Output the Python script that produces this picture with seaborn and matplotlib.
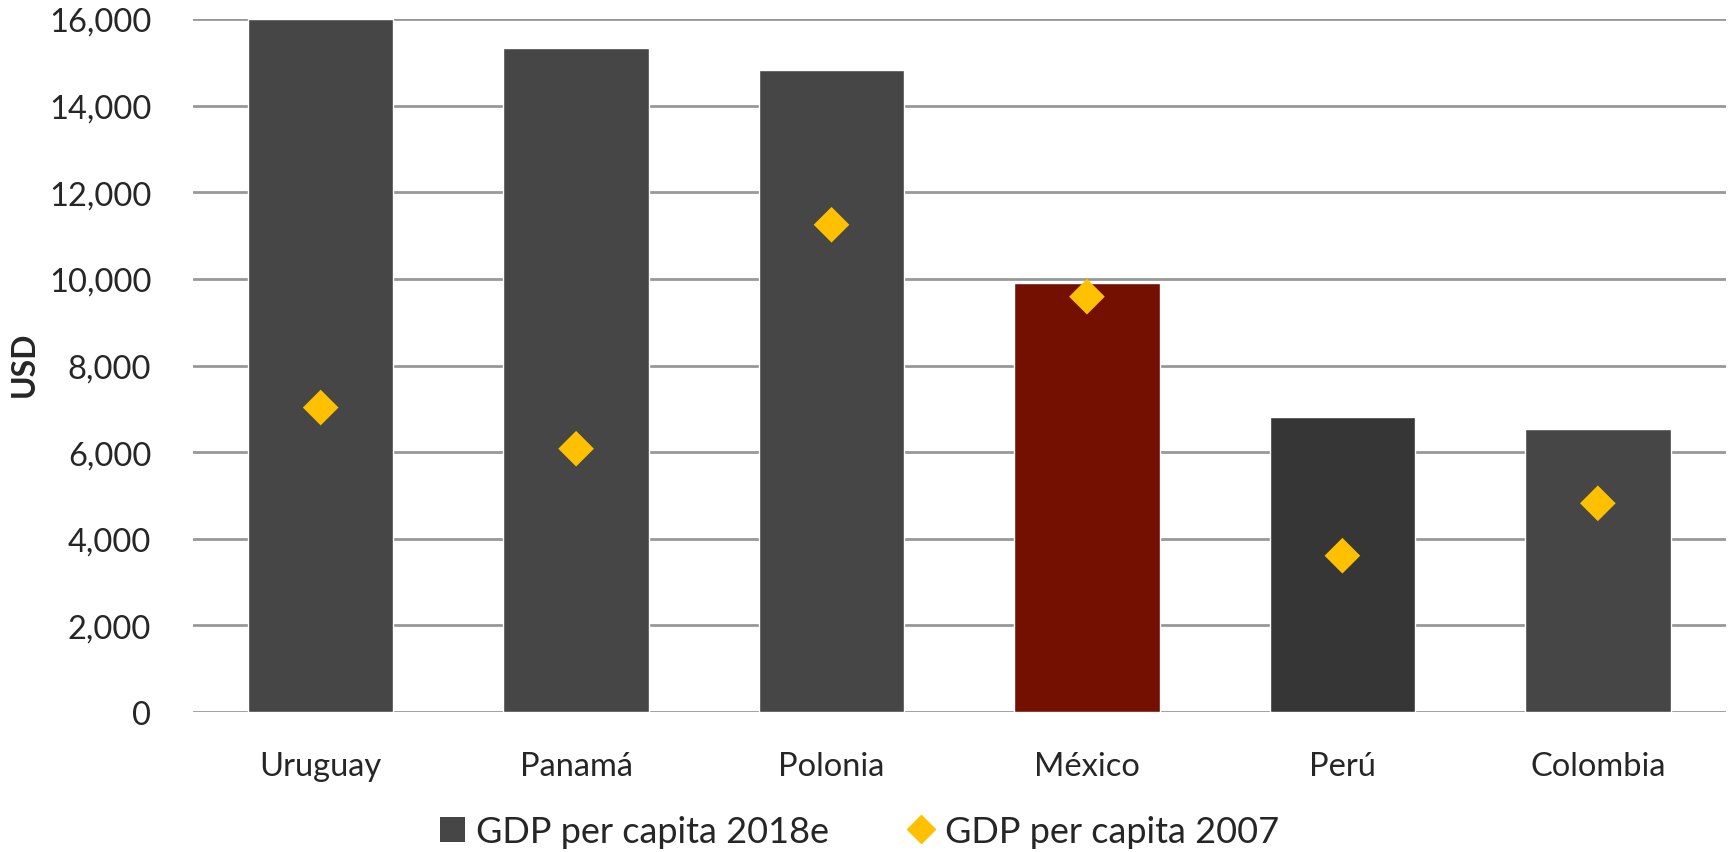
import numpy as np
import pandas as pd
import matplotlib
matplotlib.use("Agg")
import matplotlib.pyplot as plt
import seaborn as sns
from matplotlib.lines import Line2D
from matplotlib.patches import Patch
from matplotlib.ticker import FuncFormatter

# datos
paises = ["Uruguay", "Panamá", "Polonia", "México", "Perú", "Colombia"]
gdp_2018e = [16000, 15330, 14820, 9900, 6810, 6530]
gdp_2007 = [7030, 6080, 11250, 9590, 3610, 4820]
colores = ["#464646", "#464646", "#464646", "#731002", "#363636", "#464646"]

df = pd.DataFrame({"pais": paises, "gdp2018": gdp_2018e, "gdp2007": gdp_2007})

sns.set_style("white")
plt.rcParams["font.family"] = ["Lato", "DejaVu Sans"]

fig = plt.figure(figsize=(17.29, 8.53), dpi=100)
ax = fig.add_axes([0.1116, 0.164, 0.8864, 0.8126])

sns.barplot(data=df, x="pais", y="gdp2018", hue="pais", palette=colores,
            legend=False, width=0.57, saturation=1, ax=ax, zorder=2)
sns.scatterplot(data=df, x="pais", y="gdp2007", marker="D", s=330,
                color="#FFC000", edgecolor="none", ax=ax, zorder=3)

ax.set_ylim(0, 16000)
ax.set_xlim(-0.5, 5.5)
ax.set_yticks(np.arange(0, 16001, 2000))
ax.yaxis.set_major_formatter(FuncFormatter(lambda v, p: f"{int(v):,}"))
ax.grid(axis="y", color="#989898", linewidth=2, zorder=0)
for s in ax.spines.values():
    s.set_visible(False)
ax.tick_params(axis="both", length=0, labelsize=23.5)
ax.tick_params(axis="y", pad=30)
ax.tick_params(axis="x", pad=28)
ax.set_xlabel("")
ax.set_ylabel("")
fig.text(0.014, 0.573, "USD", rotation=90, fontsize=23, fontweight="bold",
         ha="center", va="center")

handles = [Patch(facecolor="#464646", edgecolor="none"),
           Line2D([], [], marker="D", linestyle="none", color="#FFC000", markersize=14)]
fig.legend(handles, ["GDP per capita 2018e", "GDP per capita 2007"],
           loc="center", bbox_to_anchor=(0.497, 0.024), ncol=2, frameon=False,
           fontsize=26, handlelength=0.7, handleheight=0.7, handletextpad=0.3,
           columnspacing=2.2)

fig.savefig("out.png", dpi=100)
